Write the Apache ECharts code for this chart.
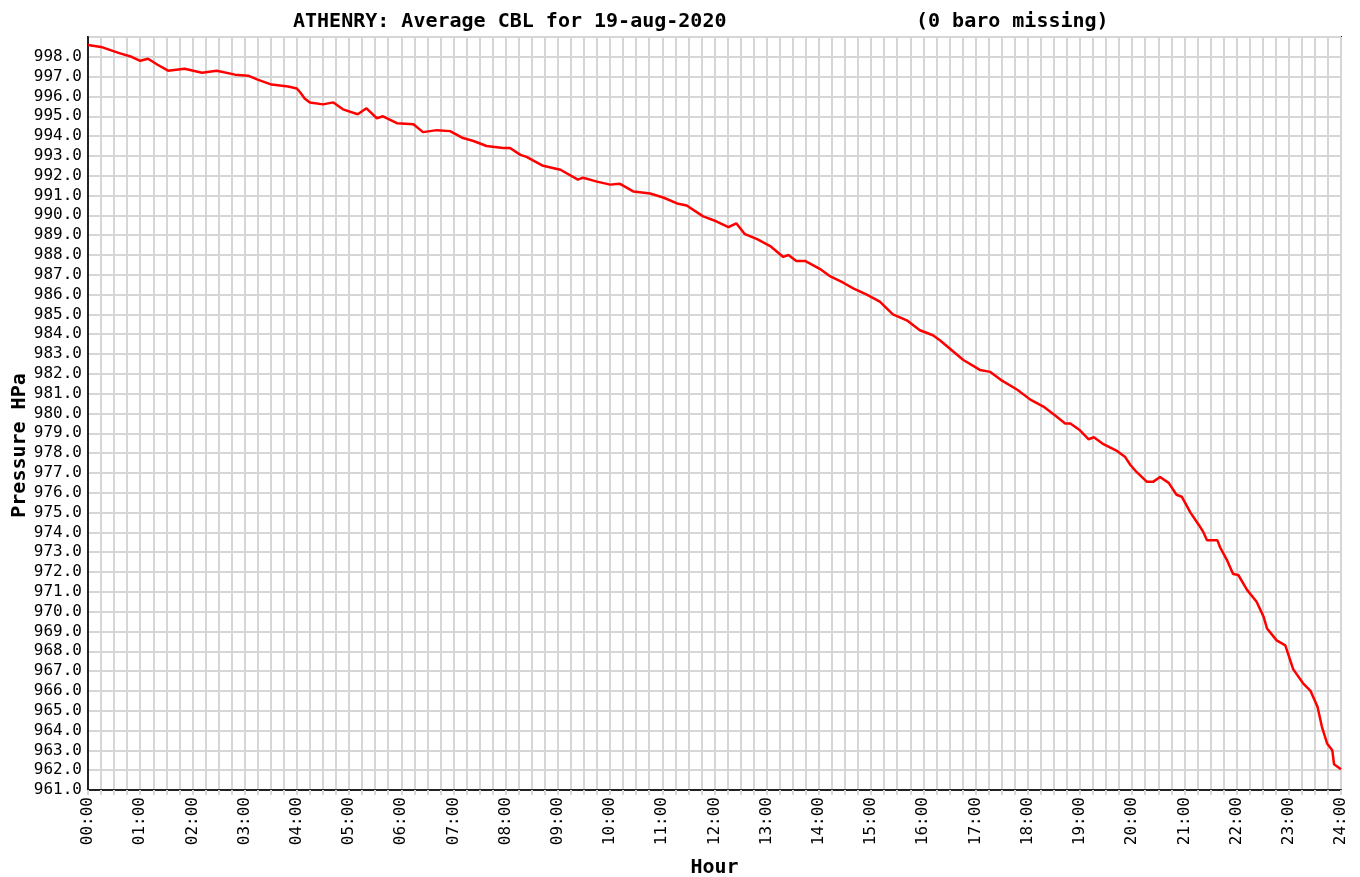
<!DOCTYPE html>
<html>
<head>
<meta charset="utf-8">
<title>ATHENRY pressure</title>
<script src="https://cdn.jsdelivr.net/npm/echarts@6/dist/echarts.min.js"></script>
<style>
  html, body { margin: 0; padding: 0; background: #fff; }
  #chart { width: 1360px; height: 877px; }
</style>
</head>
<body>
<div id="chart"></div>
<script>
// time of day in minutes
const minutes = [
  0, 15, 35, 50, 60, 69, 80, 92, 111, 131, 148, 169, 184, 195, 211, 230, 240, 244, 249, 255,
  270, 282, 293, 310, 320, 332, 339, 355, 374, 385, 401, 416, 431, 443, 458, 477, 485, 497, 504, 523,
  543, 563, 569, 585, 600, 611, 627, 646, 661, 677, 688, 707, 722, 736, 745, 755, 769, 784, 799, 805,
  814, 824, 841, 852, 868, 880, 895, 910, 925, 941, 956, 971, 979, 1006, 1025, 1037, 1049, 1068, 1083, 1098,
  1113, 1123, 1129, 1140, 1150, 1156, 1167, 1183, 1192, 1198, 1205, 1217, 1224, 1232, 1242, 1251, 1257, 1267, 1277, 1282,
  1286, 1298, 1301, 1309, 1316, 1322, 1332, 1343, 1351, 1355, 1366, 1376, 1385, 1397, 1405, 1413, 1418, 1424, 1430, 1432,
  1440
]
// pressure in hPa
const pressure = [
  998.6, 998.5, 998.2, 998.0, 997.8, 997.9, 997.6, 997.3, 997.4, 997.2, 997.3, 997.1, 997.05, 996.85, 996.6, 996.5, 996.4, 996.2, 995.9, 995.7,
  995.6, 995.7, 995.35, 995.1, 995.4, 994.9, 995.0, 994.65, 994.6, 994.2, 994.3, 994.25, 993.9, 993.75, 993.5, 993.4, 993.4, 993.05, 992.95, 992.5,
  992.3, 991.8, 991.9, 991.7, 991.55, 991.6, 991.2, 991.1, 990.9, 990.6, 990.5, 989.95, 989.7, 989.4, 989.6, 989.05, 988.8, 988.45, 987.9, 988.0,
  987.7, 987.7, 987.3, 986.95, 986.6, 986.3, 986.0, 985.65, 985.0, 984.7, 984.2, 983.95, 983.7, 982.7, 982.2, 982.1, 981.7, 981.2, 980.7, 980.35,
  979.85, 979.5, 979.5, 979.15, 978.7, 978.8, 978.45, 978.1, 977.8, 977.4, 977.05, 976.55, 976.55, 976.8, 976.5, 975.9, 975.8, 975.0, 974.35, 974.0,
  973.6, 973.6, 973.25, 972.6, 971.9, 971.85, 971.1, 970.5, 969.75, 969.15, 968.55, 968.3, 967.1, 966.35, 966.0, 965.2, 964.2, 963.35, 963.0, 962.3,
  962.05
]
const titleMain = 'ATHENRY: Average CBL for 19-aug-2020'
const titleNote = '(0 baro missing)'

const monoFont = 'DejaVu Sans Mono'
const gridColor = '#d6d6d6'

const chart = echarts.init(document.getElementById('chart'))
chart.setOption({
  backgroundColor: '#fff',
  animation: false,
  title: [
    {
      text: titleMain,
      left: 288,
      top: 7,
      textStyle: { fontFamily: monoFont, fontWeight: 'bold', fontSize: 20, color: '#000' }
    },
    {
      text: titleNote,
      left: 911,
      top: 7,
      textStyle: { fontFamily: monoFont, fontWeight: 'bold', fontSize: 20, color: '#000' }
    }
  ],
  grid: {
    left: 88,
    right: 19,
    top: 37,
    bottom: 87,
    outerBoundsMode: 'none',
    containLabel: false,
    show: true,
    backgroundColor: '#fff',
    borderColor: '#333',
    borderWidth: 2
  },
  xAxis: {
    type: 'value',
    min: 0,
    max: 24,
    interval: 1,
    name: 'Hour',
    nameLocation: 'middle',
    nameGap: 68,
    nameMoveOverlap: false,
    nameTextStyle: { fontFamily: monoFont, fontWeight: 'bold', fontSize: 20, color: '#000' },
    axisLine: { show: true, lineStyle: { color: '#222', width: 2 } },
    axisTick: { show: true, length: 5, lineStyle: { color: gridColor, width: 2 } },
    minorTick: { show: true, splitNumber: 4, length: 5, lineStyle: { color: gridColor, width: 2 } },
    splitLine: { show: true, lineStyle: { color: gridColor, width: 2 } },
    minorSplitLine: { show: true, lineStyle: { color: gridColor, width: 2 } },
    axisLabel: {
      rotate: 90,
      margin: 7,
      fontFamily: monoFont,
      fontSize: 16,
      color: '#000',
      formatter: function (v) {
        return String(v).padStart(2, '0') + ':00'
      }
    }
  },
  yAxis: {
    type: 'value',
    min: 961,
    max: 999,
    interval: 1,
    name: 'Pressure HPa',
    nameLocation: 'middle',
    nameRotate: 90,
    nameGap: 58,
    nameMoveOverlap: false,
    nameTextStyle: {
      fontFamily: monoFont,
      fontWeight: 'bold',
      fontSize: 20,
      color: '#000',
      padding: [0, 64, 0, 0]
    },
    axisLine: { show: true, lineStyle: { color: '#222', width: 2 } },
    axisTick: { show: false },
    splitLine: { show: true, lineStyle: { color: gridColor, width: 2 } },
    axisLabel: {
      margin: 6,
      fontFamily: monoFont,
      fontSize: 16,
      color: '#000',
      formatter: function (v) {
        return v === 999 ? '' : v.toFixed(1)
      }
    }
  },
  series: [
    {
      type: 'line',
      showSymbol: false,
      silent: true,
      lineStyle: { color: '#ff0000', width: 2.5 },
      data: minutes.map((m, i) => [m / 60, pressure[i]])
    }
  ]
})
</script>
</body>
</html>
